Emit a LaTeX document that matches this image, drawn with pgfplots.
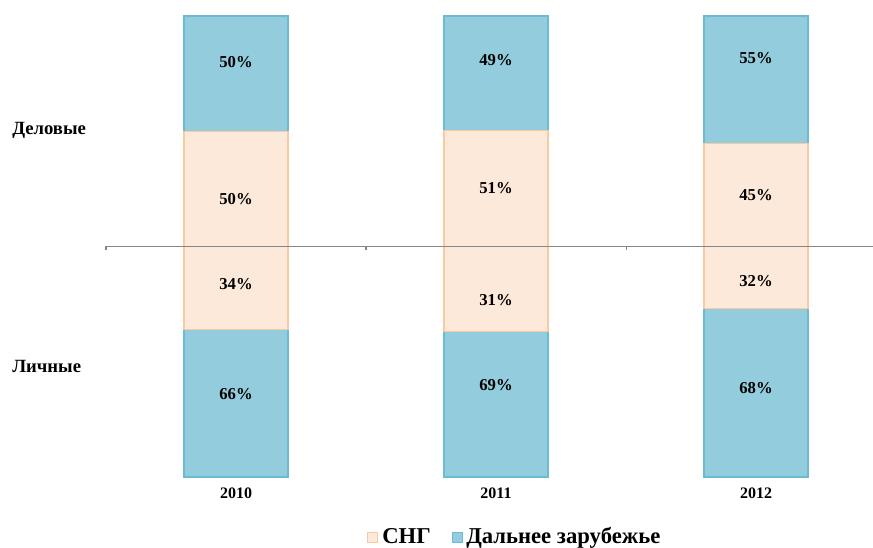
\documentclass[border=0pt]{standalone}
\usepackage{pgfplots}
\pgfplotsset{compat=1.18}
\usepackage{fontspec}
\setmainfont{Liberation Serif}
\definecolor{bluefill}{HTML}{93CDDD}
\definecolor{blueedge}{HTML}{6BBCD3}
\definecolor{peachfill}{HTML}{FDE9D9}
\definecolor{peachedge}{HTML}{F9C9A1}
\definecolor{axgray}{HTML}{868686}
\pgfplotsset{
  base/.style={
    at={(79.5pt,53.25pt)}, anchor=south west,
    width=575.25pt, height=345.75pt, scale only axis,
    xmin=-0.5, xmax=2.45, ymin=-100, ymax=100,
    hide axis, clip=false,
  },
  bars/.style={base, ybar stacked, bar width=78pt},
}
\begin{document}
\begin{tikzpicture}
\useasboundingbox (0,0) rectangle (654.75pt,411pt);
% upper part: business
\begin{axis}[bars]
\addplot[fill=peachfill, draw=peachedge, line width=0.8pt] coordinates {(0,50) (1,50.5) (2,44.6)};
\addplot[fill=bluefill, draw=blueedge, line width=0.8pt] coordinates {(0,50) (1,49.5) (2,55.4)};
\end{axis}
% lower part: personal
\begin{axis}[bars]
\addplot[fill=peachfill, draw=peachedge, line width=0.8pt] coordinates {(0,-36) (1,-36.7) (2,-26.8)};
\addplot[fill=bluefill, draw=blueedge, line width=0.8pt] coordinates {(0,-64) (1,-63.3) (2,-73.2)};
\end{axis}
% labels and axis line
\begin{axis}[base]
\draw[axgray, line width=0.8pt] (axis cs:-0.5,0) -- (axis cs:2.45,0);
\draw[axgray, line width=0.8pt] (axis cs:-0.5,0) -- ([yshift=-3pt]axis cs:-0.5,0);
\draw[axgray, line width=0.8pt] (axis cs:0.5,0) -- ([yshift=-3pt]axis cs:0.5,0);
\draw[axgray, line width=0.6pt] (axis cs:1.5,0) -- ([yshift=-2.5pt]axis cs:1.5,0);
\addplot[draw=none, mark=none, nodes near coords, point meta=explicit symbolic,
  every node near coord/.style={anchor=center, font=\bfseries\fontsize{12.5}{14}\selectfont, text=black}]
  table[meta=label] {
x y label
0 79.8 50\%
0 20.4 50\%
0 -16.2 34\%
0 -64.2 66\%
1 81.0 49\%
1 25.2 51\%
1 -23.4 31\%
1 -60.3 69\%
2 81.9 55\%
2 22.1 45\%
2 -15.2 32\%
2 -61.3 68\%
};
\node[font=\bfseries\fontsize{12}{14}\selectfont] at (axis cs:0,-100) [yshift=-12pt] {2010};
\node[font=\bfseries\fontsize{12}{14}\selectfont] at (axis cs:1,-100) [yshift=-12pt] {2011};
\node[font=\bfseries\fontsize{12}{14}\selectfont] at (axis cs:2,-100) [yshift=-12pt] {2012};
\end{axis}
% side labels
\node[anchor=west, inner sep=0pt, font=\bfseries\fontsize{14}{16}\selectfont] at (9pt,313.5pt) {Деловые};
\node[anchor=west, inner sep=0pt, font=\bfseries\fontsize{14}{16}\selectfont] at (9pt,136.5pt) {Личные};
% legend
\filldraw[fill=peachfill, draw=peachedge, line width=0.6pt] (275.25pt,4.25pt) rectangle (282.75pt,11.75pt);
\node[anchor=base west, inner sep=0pt, font=\bfseries\fontsize{17}{19}\selectfont] at (286.5pt,3pt) {СНГ};
\filldraw[fill=bluefill, draw=blueedge, line width=0.6pt] (339pt,4.25pt) rectangle (346.5pt,11.75pt);
\node[anchor=base west, inner sep=0pt, font=\bfseries\fontsize{17}{19}\selectfont] at (349.5pt,3pt) {Дальнее зарубежье};
\end{tikzpicture}
\end{document}
